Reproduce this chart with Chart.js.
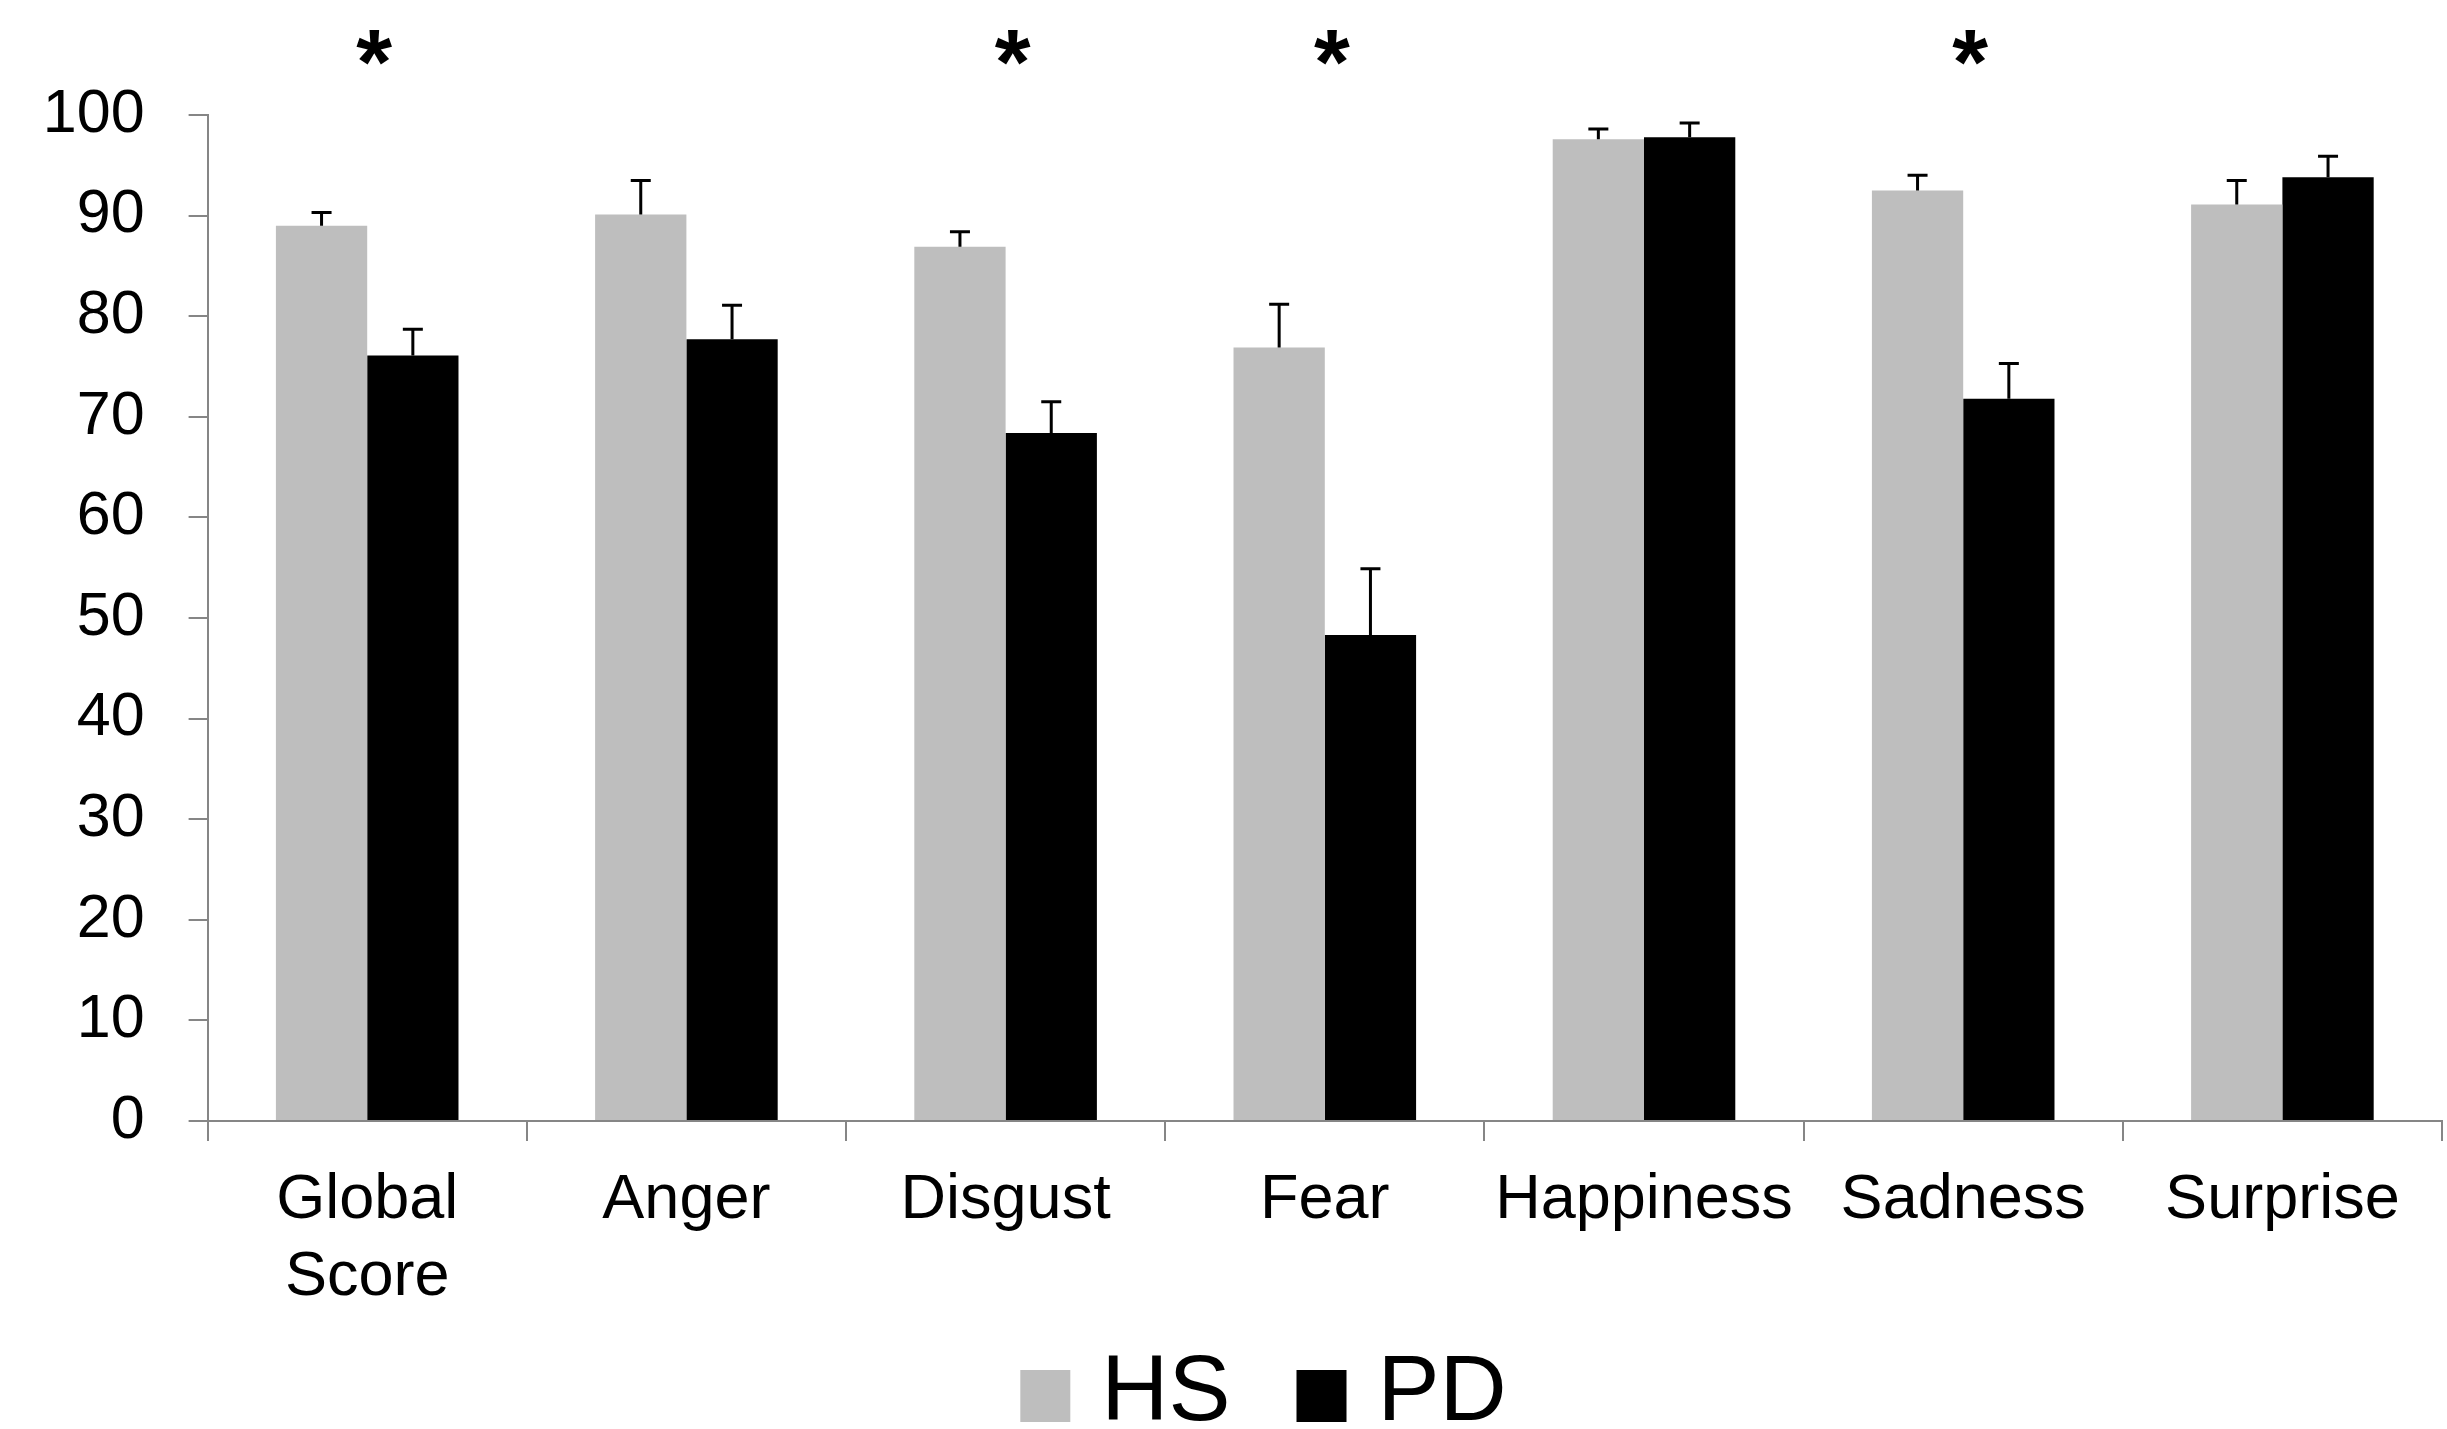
<!DOCTYPE html>
<html lang="en">
<head>
<meta charset="UTF-8">
<title>Emotion recognition HS vs PD</title>
<script src="https://cdn.jsdelivr.net/npm/chart.js"></script>
<style>
    html, body { margin: 0; padding: 0; background: #ffffff; }
    #wrap { width: 2447px; height: 1429px; }
</style>
</head>
<body>
<div id="wrap"><canvas id="chart" width="2447" height="1429"></canvas></div>
<script>
    const categories = [['Global', 'Score'], 'Anger', 'Disgust', 'Fear', 'Happiness', 'Sadness', 'Surprise'];
    const seriesNames = ['HS', 'PD'];
    const hsValues = [89.0, 90.1, 86.9, 76.9, 97.6, 92.5, 91.1];
    const hsErrors = [1.3, 3.4, 1.5, 4.3, 1.0, 1.5, 2.4];
    const pdValues = [76.1, 77.7, 68.4, 48.3, 97.8, 71.8, 93.8];
    const pdErrors = [2.6, 3.4, 3.1, 6.6, 1.4, 3.5, 2.1];
    const significant = [true, false, true, true, false, true, false];
    const yMin = 0, yMax = 100, yStep = 10;

    const FONT = "'Liberation Sans', Arial, sans-serif";
    const AXIS = '#868686';
    const errors = [hsErrors, pdErrors];

    // upper error bars, from the bar top
    const errorBars = {
        id: 'errorBars',
        afterDatasetsDraw(chart) {
            const ctx = chart.ctx;
            const y = chart.scales.y;
            ctx.save();
            ctx.strokeStyle = '#000';
            ctx.lineWidth = 3;
            chart.data.datasets.forEach((ds, d) => {
                chart.getDatasetMeta(d).data.forEach((bar, i) => {
                    const top = y.getPixelForValue(ds.data[i] + errors[d][i]);
                    ctx.beginPath();
                    ctx.moveTo(bar.x, bar.y);
                    ctx.lineTo(bar.x, top);
                    ctx.moveTo(bar.x - 10, top);
                    ctx.lineTo(bar.x + 10, top);
                    ctx.stroke();
                });
            });
            ctx.restore();
        }
    };

    // asterisks over significant groups
    const stars = {
        id: 'stars',
        afterDraw(chart) {
            const ctx = chart.ctx;
            const x = chart.scales.x, y = chart.scales.y;
            ctx.save();
            ctx.fillStyle = '#000';
            ctx.font = 'bold 92px ' + FONT;
            ctx.textAlign = 'center';
            ctx.textBaseline = 'alphabetic';
            const m = ctx.measureText('*');
            const shift = (m.actualBoundingBoxAscent - m.actualBoundingBoxDescent) / 2;
            significant.forEach((s, i) => {
                if (!s) return;
                ctx.fillText('*', x.getPixelForValue(i) + 7, y.getPixelForValue(106.7) + shift);
            });
            ctx.restore();
        }
    };

    // legend drawn below the axis labels
    const bottomLegend = {
        id: 'bottomLegend',
        afterDraw(chart) {
            const ctx = chart.ctx;
            ctx.save();
            ctx.font = '93px ' + FONT;
            ctx.textBaseline = 'middle';
            const box = 50, boxH = 52, gap = 31, itemGap = 66;
            const items = chart.data.datasets.map(ds => ({ text: ds.label, color: ds.backgroundColor, w: ctx.measureText(ds.label).width }));
            let total = 0;
            items.forEach((it, i) => { total += box + gap + it.w + (i ? itemGap : 0); });
            let x = chart.width / 2 + 40 - total / 2;
            const cy = chart.chartArea.bottom + 275;
            items.forEach(it => {
                ctx.fillStyle = it.color;
                ctx.fillRect(x, cy - boxH / 2, box, boxH);
                ctx.fillStyle = '#000';
                ctx.fillText(it.text, x + box + gap, cy - 2);
                x += box + gap + it.w + itemGap;
            });
            ctx.restore();
        }
    };

    new Chart(document.getElementById('chart'), {
        type: 'bar',
        data: {
            labels: categories,
            datasets: [
                { label: seriesNames[0], data: hsValues, backgroundColor: '#bebebe' },
                { label: seriesNames[1], data: pdValues, backgroundColor: '#000000' }
            ]
        },
        options: {
            responsive: false,
            animation: false,
            devicePixelRatio: 1,
            categoryPercentage: 0.572,
            barPercentage: 1.0,
            layout: { padding: { top: 115, left: 0, right: 5, bottom: 0 } },
            plugins: {
                legend: { display: false },
                tooltip: { enabled: false }
            },
            scales: {
                x: {
                    afterFit: s => { s.height = 308; },
                    grid: { drawOnChartArea: false, drawTicks: true, tickLength: 20, color: AXIS, lineWidth: 2 },
                    border: { display: true, color: AXIS, width: 2 },
                    ticks: { color: '#000', padding: 21, font: { family: FONT, size: 63, lineHeight: 1.22 } }
                },
                y: {
                    min: yMin, max: yMax,
                    afterFit: s => { s.width = 207.6; },
                    grid: { drawOnChartArea: false, drawTicks: true, tickLength: 19, color: AXIS, lineWidth: 2 },
                    border: { display: true, color: AXIS, width: 2 },
                    ticks: { stepSize: yStep, color: '#000', padding: 44, font: { family: FONT, size: 61 } }
                }
            }
        },
        plugins: [errorBars, stars, bottomLegend]
    });
</script>
</body>
</html>
